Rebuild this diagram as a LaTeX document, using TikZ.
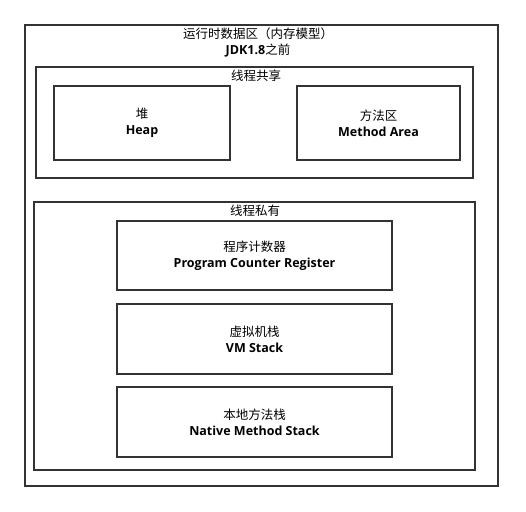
\documentclass[tikz,border=0pt]{standalone}
\usepackage{fontspec}
\setmainfont{Open Sans}
\newfontfamily\cjk{Noto Sans CJK SC}
\usepackage{tikz}
\usepackage{xcolor}

\begin{document}
\begin{tikzpicture}[x=1pt, y=-1pt]
            % Define styles
            \tikzstyle{area} = [rectangle, draw=black!80, line width=1.6pt, inner sep=0pt, outer sep=0pt]
            \tikzstyle{region} = [rectangle, draw=black!80, line width=1.6pt, inner sep=0pt, outer sep=0pt, text centered, align=center, font=\fontsize{12.5}{16}\selectfont]
            \tikzstyle{label} = [inner sep=0pt, align=center, font=\fontsize{12.5}{16}\selectfont]
            \useasboundingbox (0,0) rectangle (526,511);

            % Outer frame and its title
            \node (runtime) [area, minimum width=473pt, minimum height=461pt] at (261.5,255.5) {};
            \node (title) [label] at (258,42) {{\cjk 运行时数据区（内存模型）}\\\textbf{JDK1.8}{\cjk 之前}};

            % Shared between threads
            \node (shared) [area, minimum width=437pt, minimum height=111pt] at (254.5,122.5) {};
            \node (sharedlabel) [label] at (256,76) {\cjk 线程共享};
            \node (heap) [region, minimum width=176pt, minimum height=74pt] at (142,123) {{\cjk 堆}\\\textbf{Heap}};
            \node (method) [region, minimum width=163pt, minimum height=74pt] at (378.5,123) {{\cjk 方法区}\\\textbf{Method Area}};

            % Private to each thread
            \node (private) [area, minimum width=441pt, minimum height=268pt] at (254.5,336) {};
            \node (privatelabel) [label] at (255,211) {\cjk 线程私有};
            \node (pc) [region, minimum width=275pt, minimum height=69pt] at (254.5,255.5) {{\cjk 程序计数器}\\\textbf{Program Counter Register}};
            \node (vmstack) [region, minimum width=275pt, minimum height=70pt] at (254.5,339) {{\cjk 虚拟机栈}\\\textbf{VM Stack}};
            \node (native) [region, minimum width=275pt, minimum height=70pt] at (254.5,422) {{\cjk 本地方法栈}\\\textbf{Native Method Stack}};
        \end{tikzpicture}
\end{document}
